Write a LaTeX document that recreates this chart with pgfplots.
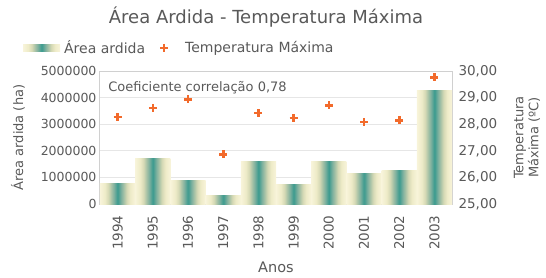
\documentclass[border=0pt]{standalone}
\usepackage{fontspec}
\setmainfont{DejaVu Sans}
\usepackage{pgfplots}
\pgfplotsset{compat=1.18}
\definecolor{txt}{HTML}{595959}
\definecolor{gridc}{HTML}{E6E6E6}
\definecolor{borderc}{HTML}{D0D0D0}
\definecolor{orangec}{HTML}{F26A2B}
\definecolor{c0}{HTML}{F8F4DA}
\definecolor{c1}{HTML}{EEEBC8}
\definecolor{c2}{HTML}{D5D9B5}
\definecolor{c3}{HTML}{A9C3A7}
\definecolor{c4}{HTML}{7DB09E}
\definecolor{c5}{HTML}{3A9A8E}
\pgfdeclarehorizontalshading{barshade}{100bp}{color(0bp)=(c0); color(25bp)=(c0); color(32bp)=(c1); color(37bp)=(c2); color(41bp)=(c3); color(45bp)=(c4); color(50bp)=(c5); color(55bp)=(c4); color(59bp)=(c3); color(63bp)=(c2); color(68bp)=(c1); color(75bp)=(c0); color(100bp)=(c0)}
\pgfplotsset{onebar/.style={ybar, bar width=35.2pt, bar shift=0pt, draw=none, shade, shading=barshade, forget plot}}
\begin{document}
\begin{tikzpicture}[x=1pt,y=1pt]
\useasboundingbox (-100,-73) rectangle (446,204);
\begin{axis}[
  at={(0,0)}, anchor=south west,
  width=352pt, height=133pt, scale only axis,
  xmin=-0.5, xmax=9.5, ymin=0, ymax=5000000,
  ytick={0,1000000,2000000,3000000,4000000,5000000},
  ytick pos=left,
  xtick={0,...,9},
  xticklabels={1994,1995,1996,1997,1998,1999,2000,2001,2002,2003},
  major tick length=0pt,
  axis line style={draw=borderc, line width=1pt},
  ymajorgrids, grid style={draw=gridc, line width=0.8pt},
  scaled y ticks=false,
  /pgf/number format/.cd, fixed, 1000 sep={}, assume math mode=true, /pgfplots/.cd,
  y tick label style={font=\fontsize{12.5}{14}\selectfont, text=txt},
  x tick label style={font=\fontsize{13.5}{15}\selectfont, text=txt, rotate=90, anchor=east, xshift=-8pt},
  label style={font=\fontsize{13}{15}\selectfont, text=txt},
  xlabel={Anos},
  xlabel style={at={(rel axis cs:0.5,0)}, anchor=center, yshift=-63pt, font=\fontsize{14.5}{16}\selectfont},
  ylabel={Área ardida (ha)},
  ylabel style={at={(rel axis cs:0,0.5)}, anchor=center, yshift=82pt},
]
\addplot[onebar] coordinates {(0,780000)};
\addplot[onebar] coordinates {(1,1700000)};
\addplot[onebar] coordinates {(2,900000)};
\addplot[onebar] coordinates {(3,310000)};
\addplot[onebar] coordinates {(4,1600000)};
\addplot[onebar] coordinates {(5,720000)};
\addplot[onebar] coordinates {(6,1610000)};
\addplot[onebar] coordinates {(7,1130000)};
\addplot[onebar] coordinates {(8,1250000)};
\addplot[onebar] coordinates {(9,4260000)};
\node[anchor=west, font=\fontsize{13}{15}\selectfont, text=txt, inner sep=0pt] at (rel axis cs:0.023,0.876) {Coeficiente correlação 0,78};
\end{axis}
\begin{axis}[
  at={(0,0)}, anchor=south west,
  width=352pt, height=133pt, scale only axis,
  xmin=-0.5, xmax=9.5, ymin=25, ymax=30,
  ytick={25,26,27,28,29,30},
  axis y line*=right, hide x axis,
  y axis line style={draw=none},
  major tick length=0pt,
  /pgf/number format/.cd, fixed, fixed zerofill, precision=2, use comma, assume math mode=true, /pgfplots/.cd,
  y tick label style={font=\fontsize{13.5}{15}\selectfont, text=txt, xshift=3pt},
  label style={font=\fontsize{13}{15}\selectfont, text=txt},
  ylabel={Temperatura\\Máxima (ºC)},
  ylabel style={align=center, at={(rel axis cs:1,0.5)}, anchor=center, yshift=-75pt},
  legend style={at={(rel axis cs:-0.219,1.173)}, anchor=west, draw=none, fill=none,
    font=\fontsize{14}{16}\selectfont, text=txt, inner sep=0pt,
    /tikz/every even column/.append style={column sep=8pt}},
  legend columns=2, legend cell align=left,
]
\addlegendimage{legend image code/.code={\path[draw=none] (0pt,-3.5pt) rectangle (39pt,3.5pt); \path[draw=none, shade, shading=barshade] (0pt,-3.5pt) rectangle (37pt,3.5pt);}}
\addlegendentry{Área ardida}
\addplot[only marks, mark=+, mark size=4pt, line width=2.6pt, color=orangec,
  legend image code/.code={\path[draw=none] (0pt,-4pt) rectangle (28pt,4pt); \draw[mark repeat=2, mark phase=2] plot coordinates {(-9pt,0pt) (9pt,0pt) (27pt,0pt)};}] coordinates {
(0,28.27) (1,28.61) (2,28.94) (3,26.87) (4,28.42) (5,28.23) (6,28.71) (7,28.08) (8,28.14) (9,29.76)};
\addlegendentry{Temperatura Máxima}
\end{axis}
\node[font=\fontsize{18}{20}\selectfont, text=txt] at (166,187) {Área Ardida - Temperatura Máxima};
\end{tikzpicture}
\end{document}
